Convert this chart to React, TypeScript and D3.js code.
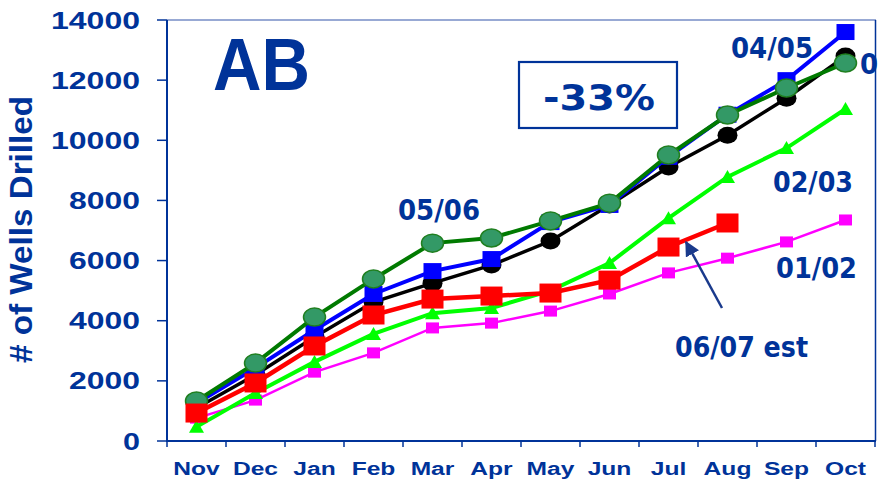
import React from "react";
import * as d3 from "d3";

const months = ["Nov", "Dec", "Jan", "Feb", "Mar", "Apr", "May", "Jun", "Jul", "Aug", "Sep", "Oct"];
const yTicks = [0, 2000, 4000, 6000, 8000, 10000, 12000, 14000];

const s0102 = [760, 1360, 2290, 2930, 3760, 3920, 4320, 4890, 5590, 6080, 6620, 7350];
const s0203 = [470, 1600, 2630, 3560, 4250, 4420, 5000, 5920, 7410, 8780, 9740, 11040];
const s0304 = [1100, 2200, 3460, 4620, 5250, 5850, 6650, 7850, 9110, 10170, 11400, 12800];
const s0405 = [1250, 2430, 3690, 4890, 5650, 6050, 7280, 7850, 9450, 10850, 12000, 13600];
const s0506 = [1330, 2590, 4120, 5390, 6580, 6750, 7320, 7910, 9510, 10840, 11740, 12570];
const s0607 = [930, 1930, 3160, 4190, 4720, 4820, 4920, 5350, 6450, 7250];

const BLUE = "#003399";

const W = 878;
const H = 482;
const left = 167, right = 875, top = 20, bottom = 441;

export default function App() {
  const x = d3.scaleBand<string>().domain(months).range([left, right]).padding(0);
  const y = d3.scaleLinear().domain([0, 14000]).range([bottom, top]);
  const cx = (i: number) => (x(months[i]) as number) + x.bandwidth() / 2;
  const line = d3
    .line<number>()
    .x((_, i) => cx(i))
    .y((d) => y(d));

  const squares = (data: number[], w: number, h: number, fill: string) =>
    data.map((d, i) => (
      <rect key={i} x={cx(i) - w / 2} y={y(d) - h / 2} width={w} height={h} fill={fill} />
    ));
  const ellipses = (data: number[], rx: number, ry: number, fill: string, stroke?: string) =>
    data.map((d, i) => (
      <ellipse key={i} cx={cx(i)} cy={y(d)} rx={rx} ry={ry} fill={fill} stroke={stroke || "none"} strokeWidth={1.5} />
    ));
  const triangles = (data: number[], w: number, h: number, fill: string) =>
    data.map((d, i) => {
      const px = cx(i), py = y(d);
      return (
        <path key={i} d={`M${px},${py - h / 2 - 1}L${px + w / 2},${py + h / 2}L${px - w / 2},${py + h / 2}Z`} fill={fill} />
      );
    });

  const boundaries = months.map((m) => x(m) as number).concat([right]);

  return (
    <svg width={W} height={H} style={{ position: "absolute", left: 0, top: 0, background: "#fff" }}>
      <rect x={0} y={0} width={W} height={H} fill="#fff" />
      {/* frame */}
      <line x1={left} x2={right + 1} y1={top} y2={top} stroke="#3355aa" strokeWidth={1.2} />
      <line x1={right + 0.5} x2={right + 0.5} y1={top} y2={bottom} stroke={BLUE} strokeWidth={1.5} />
      {/* y axis */}
      <line x1={left} x2={left} y1={top} y2={bottom + 1} stroke={BLUE} strokeWidth={2} />
      {yTicks.map((t) => (
        <g key={t}>
          <line x1={left - 10} x2={left} y1={y(t)} y2={y(t)} stroke={BLUE} strokeWidth={1.5} />
          <text
            x={140}
            y={y(t) + 8.5}
            textAnchor="end"
            fontFamily="Liberation Sans, Arial, sans-serif"
            fontWeight="bold"
            fontSize={23}
            fill={BLUE}
            textLength={String(t).length * 18 - 1}
            lengthAdjust="spacingAndGlyphs"
          >
            {t}
          </text>
        </g>
      ))}
      {/* x axis */}
      <line x1={left - 1} x2={right + 1} y1={bottom} y2={bottom} stroke={BLUE} strokeWidth={2} />
      {boundaries.map((b, i) => (
        <line key={i} x1={b} x2={b} y1={bottom} y2={bottom + 6} stroke={BLUE} strokeWidth={1.5} />
      ))}
      {months.map((m, i) => (
        <text
          key={m}
          transform={`translate(${cx(i)},${475}) scale(1.33,1)`}
          textAnchor="middle"
          fontFamily="Liberation Sans, Arial, sans-serif"
          fontWeight="bold"
          fontSize={18.5}
          fill={BLUE}
        >
          {m}
        </text>
      ))}
      {/* y title */}
      <text
        transform={`translate(32,229.5) rotate(-90)`}
        textAnchor="middle"
        fontFamily="Liberation Sans, Arial, sans-serif"
        fontWeight="bold"
        fontSize={32}
        fill={BLUE}
        textLength={267}
        lengthAdjust="spacingAndGlyphs"
      >
        # of Wells Drilled
      </text>

      {/* AB */}
      <text
        x={213}
        y={90}
        fontFamily="Liberation Sans, Arial, sans-serif"
        fontWeight="bold"
        fontSize={74}
        fill={BLUE}
        textLength={97}
        lengthAdjust="spacingAndGlyphs"
      >
        AB
      </text>
      {/* -33% box */}
      <rect x={519} y={62} width={158} height={66} fill="none" stroke={BLUE} strokeWidth={2.2} />
      <text
        x={543}
        y={110}
        fontFamily="DejaVu Sans, Verdana, sans-serif"
        fontWeight="bold"
        fontSize={36}
        fill={BLUE}
        textLength={112}
        lengthAdjust="spacingAndGlyphs"
      >
        -33%
      </text>

      {/* series labels */}
      {[
        { t: "05/06", x: 398, y: 220, l: 82 },
        { t: "04/05", x: 731, y: 58, l: 82 },
        { t: "03/04", x: 860, y: 74, l: 82 },
        { t: "02/03", x: 773, y: 192, l: 80 },
        { t: "01/02", x: 776, y: 278, l: 81 },
        { t: "06/07 est", x: 675, y: 357, l: 133 },
      ].map((d) => (
        <text
          key={d.t}
          x={d.x}
          y={d.y}
          fontFamily="DejaVu Sans, Verdana, sans-serif"
          fontWeight="bold"
          fontSize={28}
          fill={BLUE}
          textLength={d.l}
          lengthAdjust="spacingAndGlyphs"
        >
          {d.t}
        </text>
      ))}

      {/* series */}
      <path d={line(s0102) || ""} fill="none" stroke="#ff00ff" strokeWidth={2.5} />
      {squares(s0102, 13, 11, "#ff00ff")}

      <path d={line(s0203) || ""} fill="none" stroke="#00ff00" strokeWidth={4} />
      {triangles(s0203, 15, 12, "#00ff00")}

      <path d={line(s0304) || ""} fill="none" stroke="#000000" strokeWidth={3.5} />
      {ellipses(s0304, 10, 8.5, "#000000")}

      <path d={line(s0405) || ""} fill="none" stroke="#0000ff" strokeWidth={4} />
      {squares(s0405, 18, 16, "#0000ff")}

      <path d={line(s0506) || ""} fill="none" stroke="#007a00" strokeWidth={4} />
      {ellipses(s0506, 11, 9, "#339966", "#1f7f1f")}

      <path d={line(s0607) || ""} fill="none" stroke="#ff0000" strokeWidth={4.5} />
      {squares(s0607, 22, 19, "#ff0000")}

      {/* arrow */}
      <defs>
        <marker id="ah" viewBox="0 0 10 10" refX="9" refY="5" markerWidth="6" markerHeight="6" orient="auto" markerUnits="strokeWidth">
          <path d="M0,0L10,5L0,10Z" fill="#1a3a8c" />
        </marker>
      </defs>
      <line x1={722} y1={308} x2={686} y2={242} stroke="#1a3a8c" strokeWidth={2.5} markerEnd="url(#ah)" />
    </svg>
  );
}
